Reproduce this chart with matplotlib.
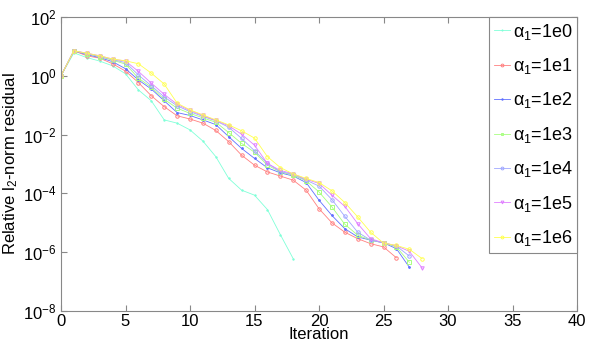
import matplotlib
matplotlib.use("Agg")
import matplotlib.pyplot as plt
import numpy as np
from matplotlib import font_manager

# log10 of relative l2-norm residual per iteration
res_1e0 = [0, .78, .62, .5, .34, .07, -.48, -.85, -1.5, -1.61, -1.84, -2.22, -2.75,
           -3.49, -3.89, -4.06, -4.55, -5.4, -6.22]
res_1e1 = [0, .85, .68, .6, .41, .16, -.23, -.68, -1.05, -1.36, -1.47, -1.61, -1.86,
           -2.24, -2.7, -3.04, -3.27, -3.41, -3.55, -3.89, -4.52, -5.0, -5.32, -5.54,
           -5.71, -5.82, -6.19]
res_1e2 = [0, .85, .72, .62, .48, .24, -.14, -.45, -.85, -1.25, -1.35, -1.5, -1.66,
           -2.07, -2.47, -2.81, -3.13, -3.3, -3.41, -3.63, -4.23, -4.75, -5.2, -5.48,
           -5.59, -5.68, -5.88, -6.51]
res_1e3 = [0, .85, .75, .65, .53, .4, -.08, -.39, -.8, -1.1, -1.28, -1.43, -1.58,
           -1.93, -2.3, -2.6, -3.04, -3.27, -3.38, -3.57, -3.95, -4.46, -5.05, -5.42,
           -5.59, -5.68, -5.82, -6.34]
res_1e4 = [0, .85, .76, .66, .55, .45, .03, -.34, -.72, -1.02, -1.22, -1.38, -1.53,
           -1.75, -2.13, -2.55, -2.98, -3.26, -3.35, -3.55, -3.75, -4.21, -4.78, -5.32,
           -5.59, -5.68, -5.79, -6.13]
res_1e5 = [0, .85, .77, .68, .57, .5, .15, -.25, -.63, -.97, -1.18, -1.35, -1.52,
           -1.7, -1.99, -2.36, -2.98, -3.22, -3.33, -3.52, -3.66, -4.06, -4.44, -5.03,
           -5.54, -5.68, -5.78, -5.97, -6.54]
res_1e6 = [0, .85, .77, .68, .57, .51, .41, .09, -.28, -.93, -1.16, -1.33, -1.5,
           -1.67, -1.87, -2.12, -2.75, -3.12, -3.34, -3.49, -3.63, -3.91, -4.31, -4.8,
           -5.32, -5.69, -5.77, -5.9, -6.22]

labels = ["1e0", "1e1", "1e2", "1e3", "1e4", "1e5", "1e6"]
series = [res_1e0, res_1e1, res_1e2, res_1e3, res_1e4, res_1e5, res_1e6]
colors = ["#80ffd8", "#ff8080", "#6070ff", "#a8ff80", "#a0a8ff", "#e080ff", "#ffff50"]
markers = [".", "o", ".", "s", "o", "v", "o"]
msizes = [2, 2.5, 2.5, 2.2, 2.5, 2.5, 2.5]

xticks = [0, 5, 10, 15, 20, 25, 30, 35, 40]
yticks = [1e2, 1e0, 1e-2, 1e-4, 1e-6, 1e-8]

avail = {f.name for f in font_manager.fontManager.ttflist}
fam = [f for f in ["Liberation Sans Narrow", "Liberation Sans", "DejaVu Sans"] if f in avail]
plt.rcParams["font.family"] = fam
plt.rcParams["mathtext.fontset"] = "custom"
plt.rcParams["mathtext.rm"] = fam[0]
plt.rcParams["mathtext.it"] = fam[0]

fig = plt.figure(figsize=(5.98, 3.46), dpi=100)
ax = fig.add_axes([61/598, 1-311/346, (577-61)/598, (311-17)/346])

for s, lab, c, m, ms in zip(series, labels, colors, markers, msizes):
    it = np.arange(len(s))
    ax.semilogy(it, 10.0 ** np.asarray(s), color=c, marker=m, markersize=ms,
                markerfacecolor="none" if m in ("o", "s", "v") else c,
                markeredgewidth=0.7, linewidth=0.6,
                label=r"$\alpha_1$=" + lab)

ax.set_xlim(0, 40)
ax.set_ylim(1e-8, 1e2)
ax.set_xticks(xticks)
ax.set_xticklabels([str(t) for t in xticks])
ax.set_yticks(yticks)
ax.yaxis.set_minor_locator(matplotlib.ticker.NullLocator())
ax.tick_params(direction="in", top=True, right=True, labelsize=12, length=4,
               color="#888888", pad=2)
ax.tick_params(axis="y", pad=3)
for sp in ax.spines.values():
    sp.set_color("#888888")
    sp.set_linewidth(0.8)

ax.set_xlabel("Iteration", fontsize=12, labelpad=-1)
ax.set_ylabel(r"Relative l$_2$-norm residual", fontsize=12, labelpad=2)

leg = ax.legend(loc="upper right", fontsize=13, frameon=True, fancybox=False,
                edgecolor="#888888", framealpha=1, handlelength=0.9,
                handletextpad=0.15, labelspacing=0.8, borderaxespad=0,
                borderpad=0.25, markerscale=0.8)
leg.get_frame().set_linewidth(0.8)

fig.savefig("out.png", dpi=100)
